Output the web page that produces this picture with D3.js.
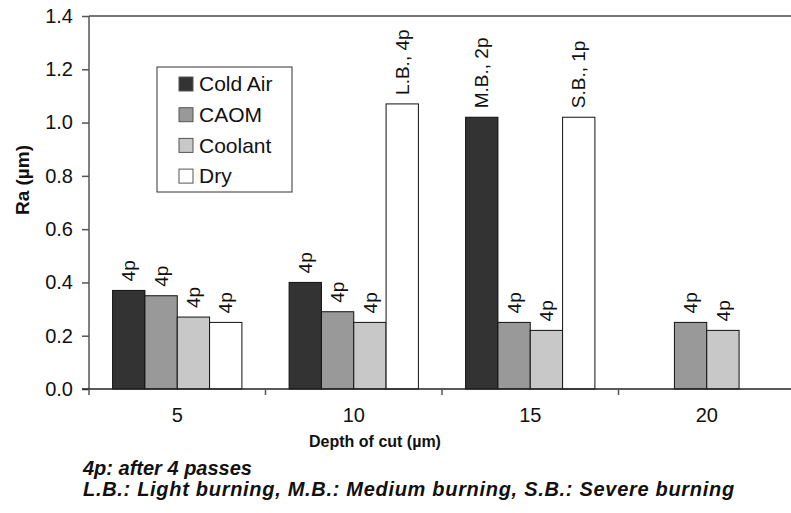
<!DOCTYPE html>
<html>
<head>
<meta charset="utf-8">
<script src="https://cdn.jsdelivr.net/npm/d3@7"></script>
<style>
  body { margin: 0; background: #fff; }
  text { font-family: "Liberation Sans", Arial, sans-serif; fill: #111; }
</style>
</head>
<body>
<div id="chart"></div>
<script>
// depth of cut groups
const depths = ['5', '10', '15', '20'];
const seriesNames = ['Cold Air', 'CAOM', 'Coolant', 'Dry'];

// Ra values (um), null = no bar
const coldAir = [0.37, 0.40, 1.02, null];
const caom    = [0.35, 0.29, 0.25, 0.25];
const coolant = [0.27, 0.25, 0.22, 0.22];
const dry     = [0.25, 1.07, 1.02, null];

// text above each bar
const coldAirLabels = ['4p', '4p', 'M.B., 2p', ''];
const caomLabels    = ['4p', '4p', '4p', '4p'];
const coolantLabels = ['4p', '4p', '4p', '4p'];
const dryLabels     = ['4p', 'L.B., 4p', 'S.B., 1p', ''];

const yTicks = [0, 0.2, 0.4, 0.6, 0.8, 1.0, 1.2, 1.4];

const notes = [
    '4p: after 4 passes',
    'L.B.: Light burning, M.B.: Medium burning, S.B.: Severe burning'
];

const colors = ['#333333', '#999999', '#c8c8c8', '#ffffff'];

const width = 791, height = 513;
const margin = {top: 16, right: -4, bottom: 124, left: 89};
const plotW = width - margin.left - margin.right;
const plotH = height - margin.top - margin.bottom;

const values = [coldAir, caom, coolant, dry];
const labels = [coldAirLabels, caomLabels, coolantLabels, dryLabels];

const svg = d3.select('#chart').append('svg')
    .attr('width', width)
    .attr('height', height);

const g = svg.append('g')
    .attr('transform', 'translate(' + margin.left + ',' + margin.top + ')');

const x = d3.scaleBand()
    .domain(depths)
    .range([0, plotW]);

const xs = d3.scaleBand()
    .domain(seriesNames)
    .range([0, x.bandwidth()])
    .paddingOuter(0.73);

const y = d3.scaleLinear()
    .domain([0, 1.4])
    .range([plotH, 0]);

// top frame line
g.append('line')
    .attr('x1', 0).attr('x2', width - margin.left)
    .attr('y1', 0).attr('y2', 0)
    .attr('stroke', '#777').attr('stroke-width', 2);

// bars
const bars = [];
seriesNames.forEach((s, si) => {
    depths.forEach((d, di) => {
        if (values[si][di] != null) {
            bars.push({series: s, si: si, depth: d, v: values[si][di], label: labels[si][di]});
        }
    });
});

g.selectAll('rect.bar')
    .data(bars)
    .enter().append('rect')
    .attr('class', 'bar')
    .attr('x', d => x(d.depth) + xs(d.series))
    .attr('y', d => y(d.v))
    .attr('width', xs.bandwidth())
    .attr('height', d => y(0) - y(d.v))
    .attr('fill', d => colors[d.si])
    .attr('stroke', '#111')
    .attr('stroke-width', 1);

g.selectAll('text.blabel')
    .data(bars.filter(d => d.label))
    .enter().append('text')
    .attr('class', 'blabel')
    .attr('transform', d => 'translate(' + (x(d.depth) + xs(d.series) + xs.bandwidth() / 2) + ',' + (y(d.v) - 9) + ') rotate(-90)')
    .attr('dy', '0.35em')
    .attr('text-anchor', 'start')
    .style('font-size', '19px')
    .text(d => d.label);

// y axis
const yAxis = g.append('g')
    .call(d3.axisLeft(y).tickValues(yTicks).tickFormat(d3.format('.1f')).tickSize(7).tickPadding(9));
yAxis.selectAll('text').style('font-size', '20px').attr('fill', '#111');
yAxis.selectAll('line, path').attr('stroke', '#555').attr('stroke-width', 1.5);
yAxis.select('.domain').attr('d', 'M0,' + plotH + 'V0');

// x axis: baseline, ticks at group edges, labels at centers
const xAxis = g.append('g').attr('transform', 'translate(0,' + plotH + ')');
xAxis.append('line')
    .attr('x1', -7).attr('x2', width - margin.left)
    .attr('stroke', '#222').attr('stroke-width', 1.5);
xAxis.selectAll('line.tick')
    .data(depths)
    .enter().append('line')
    .attr('class', 'tick')
    .attr('x1', d => x(d)).attr('x2', d => x(d))
    .attr('y1', 0).attr('y2', 6)
    .attr('stroke', '#555').attr('stroke-width', 1.5);
xAxis.selectAll('text')
    .data(depths)
    .enter().append('text')
    .attr('x', d => x(d) + x.bandwidth() / 2)
    .attr('y', 26)
    .attr('dy', '0.35em')
    .attr('text-anchor', 'middle')
    .style('font-size', '20px')
    .text(d => d);

// axis titles
svg.append('text')
    .attr('transform', 'translate(22,180) rotate(-90)')
    .attr('text-anchor', 'middle')
    .attr('dy', '0.35em')
    .style('font-size', '19px')
    .style('font-weight', 'bold')
    .text('Ra (\u00b5m)');

svg.append('text')
    .attr('x', 375)
    .attr('y', 447)
    .attr('text-anchor', 'middle')
    .style('font-size', '16px')
    .style('font-weight', 'bold')
    .text('Depth of cut (\u00b5m)');

// legend
const legend = svg.append('g').attr('transform', 'translate(157,67)');
legend.append('rect')
    .attr('width', 135).attr('height', 125)
    .attr('fill', '#fff').attr('stroke', '#333').attr('stroke-width', 1);
const item = legend.selectAll('g.item')
    .data(seriesNames)
    .enter().append('g')
    .attr('class', 'item')
    .attr('transform', (d, i) => 'translate(22,' + (17 + i * 30.7) + ')');
item.append('rect')
    .attr('y', -7).attr('width', 14).attr('height', 14)
    .attr('fill', (d, i) => colors[i])
    .attr('stroke', '#555').attr('stroke-width', 1);
item.append('text')
    .attr('x', 20)
    .attr('dy', '0.35em')
    .style('font-size', '21px')
    .text(d => d);

// footnotes
svg.selectAll('text.note')
    .data(notes)
    .enter().append('text')
    .attr('class', 'note')
    .attr('x', 83)
    .attr('y', (d, i) => 475 + i * 21)
    .style('font-size', '20px')
    .style('font-weight', 'bold')
    .style('font-style', 'italic')
    .style('letter-spacing', (d, i) => i === 1 ? '0.7px' : '0px')
    .text(d => d);
</script>
</body>
</html>
